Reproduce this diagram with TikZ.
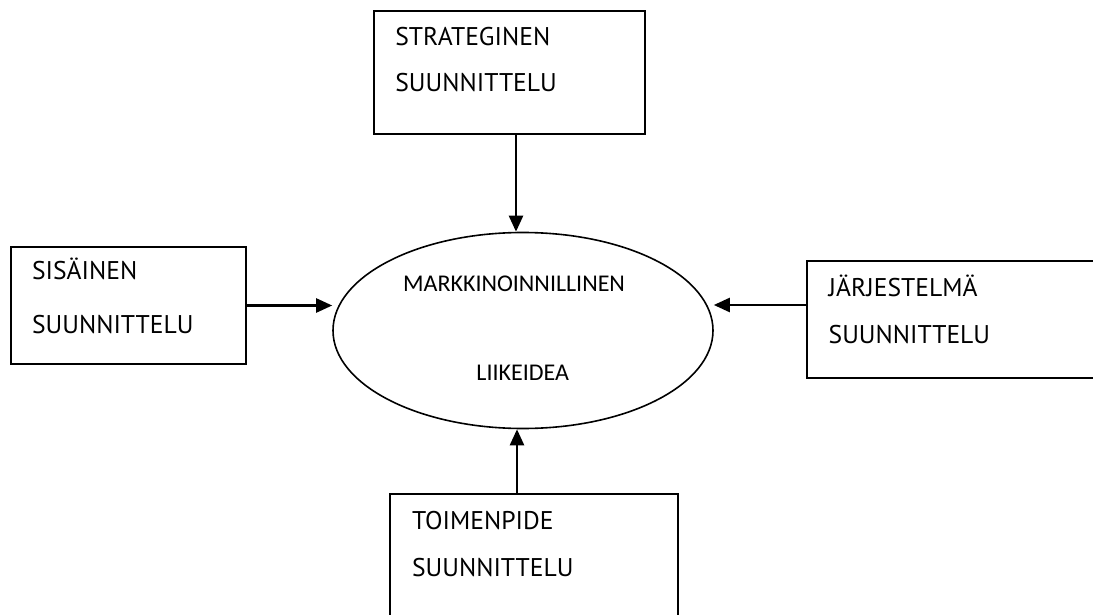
\documentclass[tikz,border=0pt]{standalone}
\usepackage{fontspec}
\setmainfont{PT Sans}
\newfontfamily\ellfont{Carlito}
\usepackage{tikz}
\usetikzlibrary{positioning,shapes.geometric,arrows.meta}

\begin{document}
\begin{tikzpicture}[
        x=0.5pt, y=-0.5pt,
        % --- STYLE LAATIKOT ---
        box/.style={
            rectangle,
            draw=black,
            line width=1pt,
            inner sep=0pt
        },
        % Teksti laatikon sisällä
        boxtext/.style={
            anchor=base west,
            inner sep=0pt,
            font=\fontsize{12.8}{15}\selectfont
        },
        % Ellipsi keskellä
        idea/.style={
            ellipse,
            draw=black,
            line width=0.8pt,
            minimum width=190pt,
            minimum height=98pt,
            inner sep=0pt
        },
        ideatext/.style={
            anchor=base,
            inner sep=0pt,
            font=\ellfont\fontsize{12}{14}\selectfont
        },
        % Nuolet
        arr/.style={
            line width=1.2pt,
            -{Triangle[length=8pt,width=7pt]}
        }
    ]
        \useasboundingbox (0,0) rectangle (1093,615);

        % --- KESKUS ---
        \node[idea] (ell) at (523,330.5) {};
        \node[ideatext] (ell-1) at (514,291.7) {MARKKINOINNILLINEN};
        \node[ideatext] (ell-2) at (522.7,380) {LIIKEIDEA};

        % --- LAATIKOT ---
        % Ylhäällä
        \node[box, minimum width=135.5pt, minimum height=61.5pt] (strat) at (509.5,72.5) {};
        \node[boxtext] (strat-1) at (395,46) {STRATEGINEN};
        \node[boxtext] (strat-2) at (395,91.7) {SUUNNITTELU};

        % Vasemmalla
        \node[box, minimum width=117.5pt, minimum height=58.5pt] (sis) at (128.5,305.5) {};
        \node[boxtext] (sis-1) at (31.7,279.3) {SISÄINEN};
        \node[boxtext] (sis-2) at (31.7,333.3) {SUUNNITTELU};

        % Oikealla (jatkuu kuvan reunan yli)
        \node[box, minimum width=151.5pt, minimum height=58.5pt] (jarj) at (958.5,319.5) {};
        \node[boxtext] (jarj-1) at (828.3,296.7) {JÄRJESTELMÄ};
        \node[boxtext] (jarj-2) at (828.3,343.3) {SUUNNITTELU};

        % Alhaalla (jatkuu kuvan reunan yli)
        \node[box, minimum width=143.8pt, minimum height=65pt] (toim) at (534,559) {};
        \node[boxtext] (toim-1) at (411.7,529) {TOIMENPIDE};
        \node[boxtext] (toim-2) at (411.7,576.7) {SUUNNITTELU};

        % --- NUOLET ---
        \draw[arr] ([xshift=3.25pt]strat.south) -- ([xshift=3.25pt]strat.south |- ell.north);
        \draw[arr] (sis.east) -- (sis.east -| ell.west);
        \draw[arr] ([yshift=7.25pt]jarj.west) -- ([yshift=7.25pt]jarj.west -| ell.east);
        \draw[arr] ([xshift=-8.5pt]toim.north) -- ([xshift=-8.5pt]toim.north |- ell.south);

\end{tikzpicture}
\end{document}
